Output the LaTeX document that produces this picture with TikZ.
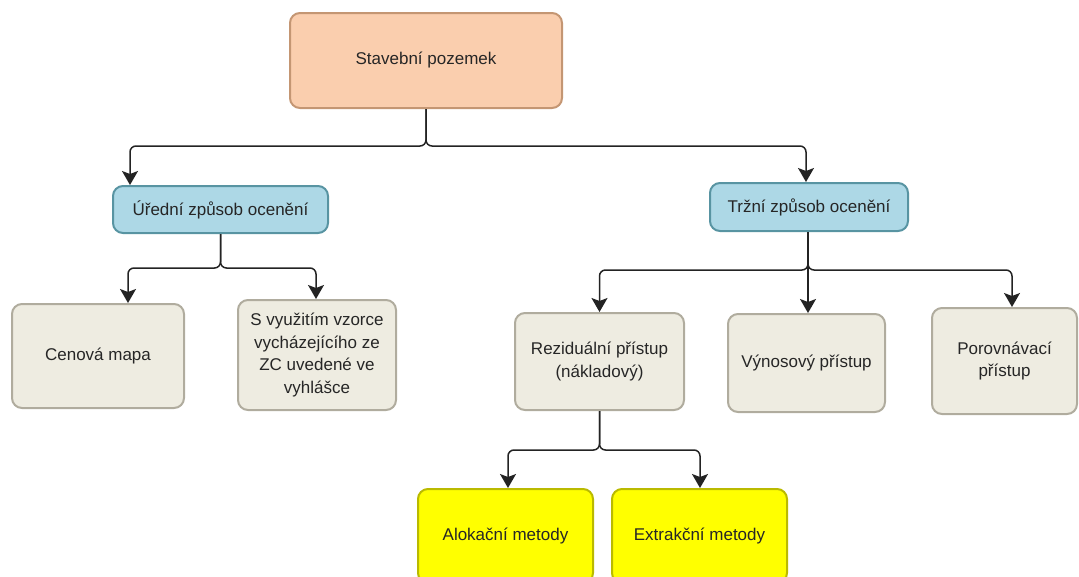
\documentclass[tikz,border=0pt]{standalone}
\usepackage{fontspec}
\setmainfont{Liberation Sans}
\usetikzlibrary{arrows.meta}

\definecolor{rootfill}{RGB}{250,206,174}
\definecolor{rootdraw}{RGB}{196,150,115}
\definecolor{bluefill}{RGB}{173,216,230}
\definecolor{bluedraw}{RGB}{88,148,162}
\definecolor{greyfill}{RGB}{238,236,225}
\definecolor{greydraw}{RGB}{176,172,158}
\definecolor{yellowfill}{RGB}{255,255,0}
\definecolor{yellowdraw}{RGB}{186,186,0}
\definecolor{linecol}{RGB}{35,35,35}

\begin{document}
\begin{tikzpicture}[x=1pt,y=1pt,
  box/.style={draw, rounded corners=10pt, line width=2pt, align=center,
              font=\fontsize{17}{22.5}\selectfont, inner sep=4pt, text=black!85},
  rootbox/.style={box, fill=rootfill, draw=rootdraw},
  bluebox/.style={box, fill=bluefill, draw=bluedraw},
  greybox/.style={box, fill=greyfill, draw=greydraw},
  yellowbox/.style={box, fill=yellowfill, draw=yellowdraw},
  conn/.style={draw=linecol, line width=1.5pt, rounded corners=6pt,
               -{Stealth[length=14pt,width=16pt,inset=3pt]}}
]
\useasboundingbox (0,0) rectangle (1079,-576);

% boxes
\node[rootbox, minimum width=272pt, minimum height=95pt] (root) at (426,-60.5) {Stavební pozemek};

\node[bluebox, minimum width=215pt, minimum height=47pt] (ured) at (220.5,-209.5) {Úřední způsob ocenění};
\node[bluebox, minimum width=198pt, minimum height=48pt] (trzni) at (809,-207) {Tržní způsob ocenění};

\node[greybox, minimum width=172pt, minimum height=104pt] (cen) at (98,-356) {Cenová mapa};
\node[greybox, minimum width=158pt, minimum height=110pt] (vzor) at (317,-355)
  {S využitím vzorce\\vycházejícího ze\\ZC uvedené ve\\vyhlášce};

\node[greybox, minimum width=169pt, minimum height=97pt] (rez) at (599.5,-361.5) {Reziduální přístup\\(nákladový)};
\node[greybox, minimum width=157pt, minimum height=98pt] (vyn) at (806.5,-363) {Výnosový přístup};
\node[greybox, minimum width=145pt, minimum height=106pt] (por) at (1004.5,-361) {Porovnávací\\přístup};

\node[yellowbox, minimum width=175pt, minimum height=94pt] (alo) at (505.5,-536) {Alokační metody};
\node[yellowbox, minimum width=175pt, minimum height=94pt] (ext) at (699.5,-536) {Extrakční metody};

% branching levels
\coordinate (j0) at (0,-146);
\coordinate (j1) at (0,-268);
\coordinate (j2) at (0,-270);
\coordinate (j3) at (0,-450);

% connectors
\draw[conn] (root.south) |- ([xshift=-90.5pt]ured.north |- j0) -- ([xshift=-90.5pt]ured.north);
\draw[conn] (root.south) |- ([xshift=-3pt]trzni.north |- j0) -- ([xshift=-3pt]trzni.north);

\draw[conn] (ured.south) |- ([xshift=30pt]cen.north |- j1) -- ([xshift=30pt]cen.north);
\draw[conn] (ured.south) |- ([xshift=-1pt]vzor.north |- j1) -- ([xshift=-1pt]vzor.north);

\draw[conn] ([xshift=-1pt]trzni.south) |- (rez.north |- j2) -- (rez.north);
\draw[conn] ([xshift=-1pt]trzni.south) -- ([xshift=1.5pt]vyn.north);
\draw[conn] ([xshift=-1pt]trzni.south) |- ([xshift=7.5pt]por.north |- j2) -- ([xshift=7.5pt]por.north);

\draw[conn] (rez.south) |- ([xshift=2.5pt]alo.north |- j3) -- ([xshift=2.5pt]alo.north);
\draw[conn] (rez.south) |- ([xshift=0.5pt]ext.north |- j3) -- ([xshift=0.5pt]ext.north);
\end{tikzpicture}
\end{document}
